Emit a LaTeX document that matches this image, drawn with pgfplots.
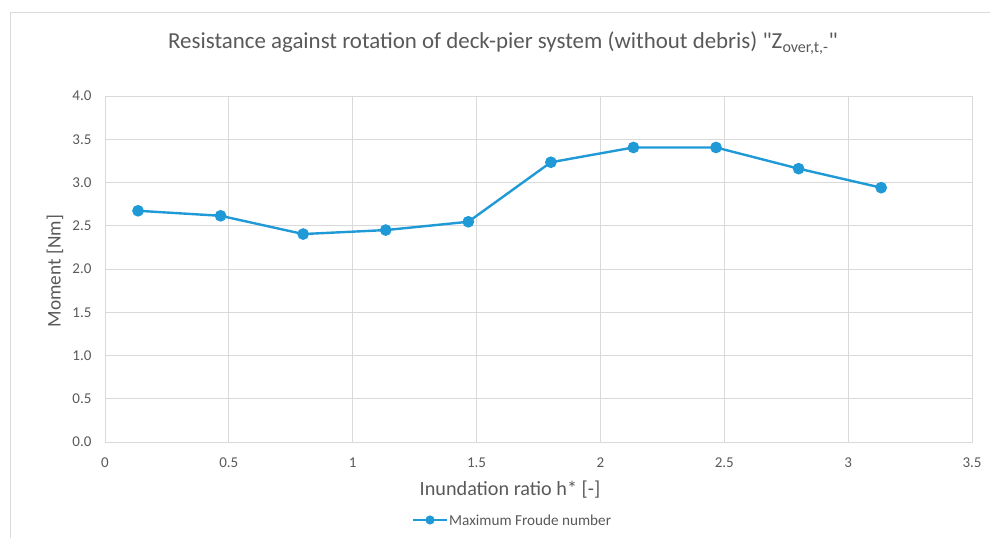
\documentclass[border=0pt]{standalone}
\usepackage{fontspec}
\setmainfont{Carlito}
\newfontfamily\plainfont{Carlito}
\usepackage{pgfplots}
\pgfplotsset{compat=1.18}
\definecolor{txt}{HTML}{595959}
\definecolor{gridc}{HTML}{D9D9D9}
\definecolor{line}{HTML}{1F9AD6}

\begin{document}
\begin{tikzpicture}[x=1pt,y=1pt]
\path[use as bounding box] (0,0) rectangle (997,538);
\draw[gridc, line width=0.8pt] (10,0) -- (10,526) -- (990,526);
\begin{axis}[
    at={(105pt,96pt)}, anchor=south west,
    scale only axis,
    width=867pt, height=346pt,
    xmin=0, xmax=3.5, ymin=0, ymax=4,
    xtick={0,0.5,...,3.5},
    ytick={0,0.5,...,4},
    yticklabel style={/pgf/number format/fixed, /pgf/number format/fixed zerofill, /pgf/number format/precision=1, xshift=-10pt},
    /pgf/number format/assume math mode=true,
    grid=major,
    grid style={gridc, line width=0.8pt},
    axis line style={gridc, line width=0.8pt},
    tick style={draw=none},
    ticklabel style={font=\fontsize{15}{17}\selectfont, text=txt},
    xticklabel style={anchor=base, yshift=-25.5pt},
    clip=false,
]
\addplot[line, line width=2.4pt, mark=*, mark size=4.6pt, mark options={fill=line, draw=line}]
coordinates {
(0.1333,2.673)(0.4667,2.615)(0.8,2.404)(1.1333,2.45)(1.4667,2.546)
(1.8,3.234)(2.1333,3.405)(2.4667,3.405)(2.8,3.16)(3.1333,2.94)
};
\end{axis}
\node[text=txt, font=\plainfont\fontsize{22.9}{27}\selectfont] at (503,495)
  {Resistance against rotation of deck-pier system (without debris) "Z\textsubscript{over,t,-}"};
\node[text=txt, font=\fontsize{20.2}{23}\selectfont] at (510,48) {Inundation ratio h* [-]};
\node[text=txt, font=\fontsize{19.3}{22}\selectfont, rotate=90] at (55,267) {Moment [Nm]};
\draw[line, line width=2.4pt] (413,18) -- (447,18);
\fill[line] (430,18) circle (4.6pt);
\node[text=txt, font=\fontsize{15.2}{17}\selectfont, anchor=west, inner sep=0pt] at (449,18) {Maximum Froude number};
\end{tikzpicture}
\end{document}
